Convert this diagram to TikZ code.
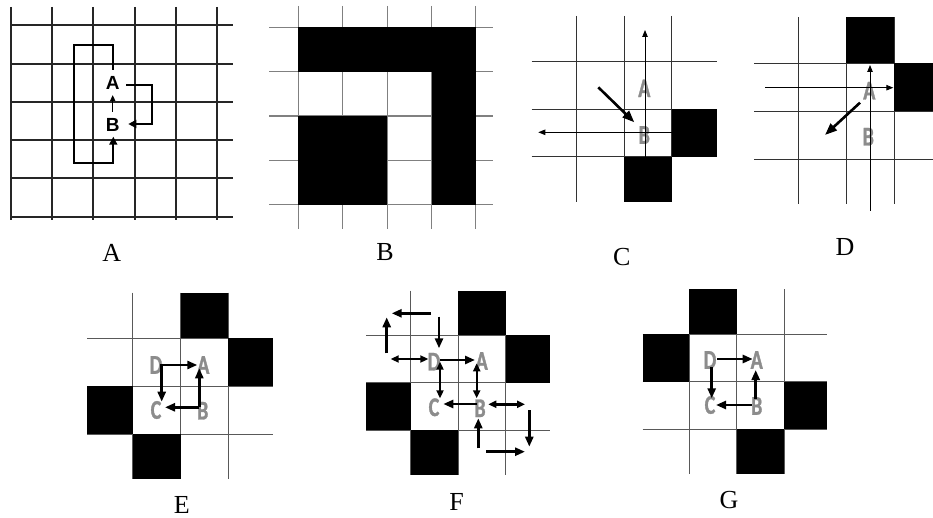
\documentclass[tikz,border=0pt]{standalone}
\usepackage{fontspec}
\setmainfont{Liberation Serif}
\newfontfamily\labsans{Liberation Sans}
\newfontfamily\graysans[FakeStretch=0.74,FakeBold=1.2]{Carlito Bold}
\usetikzlibrary{arrows.meta,calc}
\definecolor{lettergray}{gray}{0.55}
\tikzset{
  gA/.style={line width=1.6pt, draw=black!85},
  gB/.style={line width=1.3pt, draw=black!50},
  gC/.style={line width=0.9pt, draw=black!80},
  gE/.style={line width=1pt, draw=black!65},
  cellfill/.style={fill=black},
  panellabel/.style={font=\fontsize{26}{30}\selectfont, inner sep=0pt},
  blacklet/.style={font=\labsans\bfseries\fontsize{19}{22}\selectfont, inner sep=0pt},
  graylet/.style={font=\graysans\fontsize{27}{30}\selectfont, text=lettergray, inner sep=0pt},
  arrA/.style={-{Triangle[length=8pt,width=8pt]}, line width=1.8pt},
  arrAs/.style={-{Triangle[length=6pt,width=5pt]}, line width=1.5pt},
  arrthin/.style={-{Triangle[length=7pt,width=5.5pt]}, line width=0.9pt},
  arrdiag/.style={-{Triangle[length=12pt,width=9pt]}, line width=2.6pt},
  arrk/.style={-{Triangle[length=10pt,width=8pt]}, line width=2.6pt},
  arrdbl/.style={{Triangle[length=8pt,width=7pt]}-{Triangle[length=8pt,width=7pt]}, line width=2.4pt},
}
\begin{document}
\begin{tikzpicture}[x=1pt,y=-1pt]
\useasboundingbox (0,0) rectangle (933,518);
\fill[white] (0,0) rectangle (933,518);

% ---------------- Panel A ----------------
\foreach \x in {11,52,93,135,176,217} \draw[gA] (\x,7) -- (\x,220);
\foreach \y in {25,64,102,140,178,217} \draw[gA] (10,\y) -- (233,\y);
\node[blacklet] (aA) at (112.7,83.3) {A};
\node[blacklet] (aB) at (112.7,125) {B};
\draw[arrAs] ($(aB)+(0,-13)$) -- ($(aA)+(0,11.7)$);
\draw[arrA] ($(aA)+(13.3,1.7)$) -- ++(25.7,0) |- ($(aB)+(15.6,-1)$);
\draw[arrA] ($(aA)+(0.6,-13.3)$) -- ++(0,-25) -- ++(-39.3,0) -- ++(0,118.3) -- ++(39.3,0) -- ($(aB)+(0.6,11.7)$);
\node[panellabel] (labA) at (111.7,253) {A};

% ---------------- Panel B ----------------
\foreach \x in {298.3,342.7,387.3,431.7,475.7} \draw[gB] (\x,6) -- (\x,228.7);
\foreach \y in {27.3,71.7,116,160.7,204.7} \draw[gB] (269,\y) -- (493.3,\y);
\fill[cellfill] (298.3,27.3) rectangle (475.7,71.7);
\fill[cellfill] (431.7,27.3) rectangle (475.7,204.7);
\fill[cellfill] (298.3,116) rectangle (387.3,204.7);
\node[panellabel] (labB) at (385,251.7) {B};

% ---------------- Panel C ----------------
\foreach \x in {576.7,624.3,671.7} \draw[gC] (\x,16) -- (\x,201.7);
\foreach \y in {61.7,109.3,156.7} \draw[gC] (531.7,\y) -- (716.7,\y);
\fill[cellfill] (671.7,109.3) rectangle (716.7,156.7);
\fill[cellfill] (624.3,156.7) rectangle (671.7,201.7);
\node[graylet] (cA) at (644.3,88.3) {A};
\node[graylet] (cB) at (644.3,135) {B};
\coordinate (cTop) at (645,30);
\coordinate (cLeft) at (538.3,132.3);
\coordinate (cDiag) at (598.3,87.3);
\draw[arrthin] (645,156.7) -- (cTop);
\draw[arrthin] (671.7,132.3) -- (cLeft);
\draw[arrdiag] (cDiag) -- ($(cB)+(-10,-12.7)$);
\node[panellabel] (labC) at (621.7,256.7) {C};

% ---------------- Panel D ----------------
\foreach \x in {798.3,846,894} \draw[gC] (\x,17.3) -- (\x,204);
\foreach \y in {63.3,111,159} \draw[gC] (754,\y) -- (933,\y);
\fill[cellfill] (846,17.3) rectangle (894,63.3);
\fill[cellfill] (894,63.3) rectangle (933,111);
\node[graylet] (dA) at (869.3,90.7) {A};
\node[graylet] (dB) at (868.3,136.7) {B};
\coordinate (dLeft) at (765,87.7);
\coordinate (dBot) at (870,210.7);
\coordinate (dDiag) at (825,135);
\draw[arrthin] (dLeft) -- (893.3,87.7);
\draw[arrthin] (dBot) -- (870,65);
\draw[arrdiag] ($(dA)+(-9.3,12)$) -- (dDiag);
\node[panellabel] (labD) at (845,246.7) {D};

% ---------------- Panel E ----------------
\foreach \x in {132.7,180.7,228.3} \draw[gE] (\x,292.7) -- (\x,479.3);
\foreach \y in {338.3,386,434} \draw[gE] (87.3,\y) -- (273.3,\y);
\fill[cellfill] (180.7,292.7) rectangle (228.3,338.3);
\fill[cellfill] (228.3,338.3) rectangle (273.3,386);
\fill[cellfill] (87.3,386) rectangle (132.7,434);
\fill[cellfill] (132.7,434) rectangle (180.7,479.3);
\node[graylet] (eD) at (156,365) {D};
\node[graylet] (eA) at (203.3,365) {A};
\node[graylet] (eC) at (156,410) {C};
\node[graylet] (eB) at (202.7,410.7) {B};
\draw[arrk] ($(eD)+(5.7,0)$) -- ($(eA)+(-6,0)$);
\draw[arrk] ($(eD)+(5.7,-1.3)$) -- ($(eC)+(5.7,-8.3)$);
\draw[arrk] ($(eB)+(-3.4,-3.4)$) -- ($(eA)+(-4,3.3)$);
\draw[arrk] ($(eB)+(-3.4,-3.4)$) -- ($(eC)+(9,-2.7)$);
\node[panellabel] (labE) at (181.7,504.5) {E};

% ---------------- Panel F ----------------
\foreach \x in {410.7,458.3,505.7} \draw[gE] (\x,290.7) -- (\x,475);
\foreach \y in {335,382.7,430} \draw[gE] (366,\y) -- (550,\y);
\fill[cellfill] (458.3,290.7) rectangle (505.7,335);
\fill[cellfill] (505.7,335) rectangle (550,382.7);
\fill[cellfill] (366,382.7) rectangle (410.7,430);
\fill[cellfill] (410.7,430) rectangle (458.3,475);
\node[graylet] (fD) at (434,361.7) {D};
\node[graylet] (fA) at (481.7,361) {A};
\node[graylet] (fC) at (434,407.3) {C};
\node[graylet] (fB) at (480,408.3) {B};
\coordinate (f1s) at (431,313.3);   \coordinate (f1e) at (391.7,313.3);
\coordinate (f2s) at (386.7,353.3); \coordinate (f2e) at (386.7,317.3);
\coordinate (f3s) at (439,316.7);   \coordinate (f3e) at (439,348.3);
\coordinate (f4s) at (390.7,359);
\coordinate (f9e) at (525,404.3);
\coordinate (f10s) at (478.3,448.3);
\coordinate (f11s) at (529.3,410);  \coordinate (f11e) at (529.3,446.7);
\coordinate (f12s) at (486,451.7);  \coordinate (f12e) at (525,451.7);
\draw[arrk] (f1s) -- (f1e);
\draw[arrk] (f2s) -- (f2e);
\draw[arrk] (f3s) -- (f3e);
\draw[arrdbl] (f4s) -- ($(fD)+(-5.7,-2.7)$);
\draw[arrk] ($(fD)+(6,-1.7)$) -- ($(fA)+(-6.7,-1)$);
\draw[arrdbl] ($(fD)+(6,0)$) -- ($(fC)+(6,-9)$);
\draw[arrdbl] ($(fA)+(-5,2.3)$) -- ($(fB)+(-3.3,-10)$);
\draw[arrk] ($(fB)+(-3.3,-4.3)$) -- ($(fC)+(9.3,-3.3)$);
\draw[arrdbl] ($(fB)+(8.3,-4)$) -- (f9e);
\draw[arrk] (f10s) -- ($(fB)+(-1.7,10)$);
\draw[arrk] (f11s) -- (f11e);
\draw[arrk] (f12s) -- (f12e);
\node[panellabel] (labF) at (456.7,501.7) {F};

% ---------------- Panel G ----------------
\foreach \x in {689.3,736.7,784} \draw[gE] (\x,289.3) -- (\x,474);
\foreach \y in {334,381.7,429} \draw[gE] (642.7,\y) -- (826.7,\y);
\fill[cellfill] (689.3,289.3) rectangle (736.7,334);
\fill[cellfill] (642.7,334) rectangle (689.3,381.7);
\fill[cellfill] (784,381.7) rectangle (826.7,429);
\fill[cellfill] (736.7,429) rectangle (784,474);
\node[graylet] (gD) at (710,360) {D};
\node[graylet] (gA) at (756.7,360) {A};
\node[graylet] (gC) at (710,405) {C};
\node[graylet] (gB) at (756.7,406) {B};
\draw[arrk] ($(gD)+(7.3,-1)$) -- ($(gA)+(-4,-1)$);
\draw[arrk] ($(gD)+(1.7,7.3)$) -- ($(gC)+(1.7,-6.7)$);
\draw[arrk] ($(gB)+(-1,-6.7)$) -- ($(gA)+(-1,10)$);
\draw[arrk] ($(gB)+(-5,-1)$) -- ($(gC)+(6,0)$);
\node[panellabel] (labG) at (729,500) {G};
\end{tikzpicture}
\end{document}
